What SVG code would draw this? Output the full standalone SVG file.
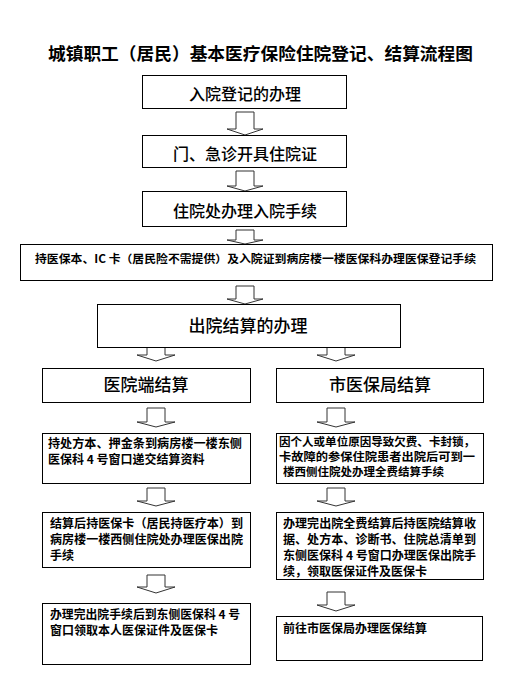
<svg xmlns="http://www.w3.org/2000/svg" width="528" height="689" viewBox="0 0 528 689">
<style>
.box{fill:#fff;stroke:#000;stroke-width:1}
.arr{fill:#fff;stroke:#333;stroke-width:1;stroke-linejoin:miter}
text{font-family:"Noto Sans CJK SC","Noto Sans",sans-serif;fill:#000}
.t{font-size:17.5px;font-weight:bold}
.m{font-size:16px;text-anchor:middle;font-weight:500}
.s{font-size:12px;font-weight:bold}
.s2{font-size:11.5px;font-weight:bold}
.xs{font-size:11px;font-weight:bold}
</style>
<rect width="528" height="689" fill="#fff"/>
<text class="t" x="48" y="60" textLength="425" lengthAdjust="spacingAndGlyphs">城镇职工（居民）基本医疗保险住院登记、结算流程图</text>
<g id="connectors">
<path class="arr" d="M236,112 H254 V129 H263 L245,135 L227,129 H236 Z"/>
<path class="arr" d="M236,171 H254 V186 H263 L245,191 L227,186 H236 Z"/>
<path class="arr" d="M236,230 H254 V240 H263 L245,244 L227,240 H236 Z"/>
<path class="arr" d="M236,286 H254 V299 H263 L245,304 L227,299 H236 Z"/>
<path class="arr" d="M147,344 H165 V355 H175 L156,361 L137,355 H147 Z"/>
<path class="arr" d="M327,344 H345 V355 H355 L336,361 L317,355 H327 Z"/>
<path class="arr" d="M147,408 H165 V422 H175 L156,427 L137,422 H147 Z"/>
<path class="arr" d="M327,408 H345 V422 H355 L336,427 L317,422 H327 Z"/>
<path class="arr" d="M147,488 H165 V501 H175 L156,506 L137,501 H147 Z"/>
<path class="arr" d="M327,488 H345 V501 H355 L336,506 L317,501 H327 Z"/>
<path class="arr" d="M147,575 H165 V587 H175 L156,593 L137,587 H147 Z"/>
<path class="arr" d="M327,592 H345 V605 H355 L336,611 L317,605 H327 Z"/>
</g>
<g id="n1"><rect class="box" x="142.5" y="75.5" width="204" height="33"/><text class="m" x="245" y="100">入院登记的办理</text></g>
<g id="n2"><rect class="box" x="142.5" y="135.5" width="204" height="32"/><text class="m" x="245" y="160">门、急诊开具住院证</text></g>
<g id="n3"><rect class="box" x="142.5" y="191.5" width="204" height="35"/><text class="m" x="245" y="217">住院处办理入院手续</text></g>
<g id="n4"><rect class="box" x="20.5" y="244.5" width="472" height="36"/><text class="xs" x="35" y="263" textLength="441" lengthAdjust="spacingAndGlyphs">持医保本、IC 卡（居民险不需提供）及入院证到病房楼一楼医保科办理医保登记手续</text></g>
<g id="n5"><rect class="box" x="97.5" y="304.5" width="303" height="43"/><text class="m" x="248" y="332" style="font-size:17px">出院结算的办理</text></g>
<g id="n6"><rect class="box" x="42.5" y="368.5" width="208" height="34"/><text class="m" x="146" y="391" style="font-size:17px">医院端结算</text></g>
<g id="n7"><rect class="box" x="276.5" y="368.5" width="207" height="34"/><text class="m" x="380" y="391" style="font-size:17px">市医保局结算</text></g>
<g id="n8"><rect class="box" x="42.5" y="433.5" width="208" height="50"/>
<text class="s" x="48" y="448" textLength="194" lengthAdjust="spacingAndGlyphs">持处方本、押金条到病房楼一楼东侧</text>
<text class="s" x="48" y="464">医保科 4 号窗口递交结算资料</text></g>
<g id="n9"><rect class="box" x="276.5" y="433.5" width="207" height="50"/>
<text class="s2" x="279" y="446" textLength="196" lengthAdjust="spacingAndGlyphs">因个人或单位原因导致欠费、卡封锁，</text>
<text class="s2" x="279" y="461" textLength="196" lengthAdjust="spacingAndGlyphs">卡故障的参保住院患者出院后可到一</text>
<text class="s2" x="283" y="476">楼西侧住院处办理全费结算手续</text></g>
<g id="n10"><rect class="box" x="42.5" y="512.5" width="208" height="55"/>
<text class="s" x="50" y="528" textLength="193" lengthAdjust="spacingAndGlyphs">结算后持医保卡（居民持医疗本）到</text>
<text class="s" x="50" y="544" textLength="193" lengthAdjust="spacingAndGlyphs">病房楼一楼西侧住院处办理医保出院</text>
<text class="s" x="50" y="560">手续</text></g>
<g id="n11"><rect class="box" x="276.5" y="512.5" width="207" height="67"/>
<text class="s" x="283" y="528" textLength="193" lengthAdjust="spacingAndGlyphs">办理完出院全费结算后持医院结算收</text>
<text class="s" x="283" y="544" textLength="193" lengthAdjust="spacingAndGlyphs">据、处方本、诊断书、住院总清单到</text>
<text class="s" x="283" y="560" textLength="193" lengthAdjust="spacingAndGlyphs">东侧医保科 4 号窗口办理医保出院手</text>
<text class="s" x="283" y="576">续，领取医保证件及医保卡</text></g>
<g id="n12"><rect class="box" x="42.5" y="603.5" width="208" height="61"/>
<text class="s" x="50" y="619" textLength="190" lengthAdjust="spacingAndGlyphs">办理完出院手续后到东侧医保科 4 号</text>
<text class="s" x="50" y="635">窗口领取本人医保证件及医保卡</text></g>
<g id="n13"><rect class="box" x="276.5" y="616.5" width="206" height="44"/>
<text class="s" x="283" y="633">前往市医保局办理医保结算</text></g>
</svg>
